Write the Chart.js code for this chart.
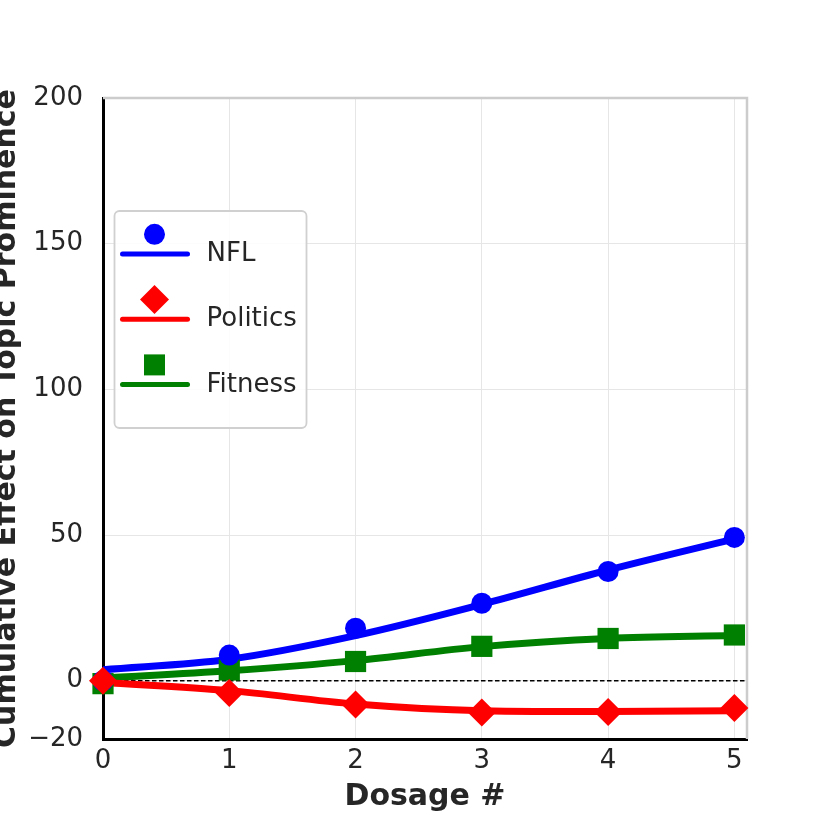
<!DOCTYPE html>
<html>
<head>
<meta charset="utf-8">
<script src="https://cdn.jsdelivr.net/npm/chart.js@4/dist/chart.umd.min.js"></script>
<style>
  body { margin: 0; background: #fff; }
  #wrap { width: 830px; height: 830px; }
</style>
</head>
<body>
<div id="wrap"><canvas id="grafico"></canvas></div>
<script>
const dosage = [0, 1, 2, 3, 4, 5];
const xTicks = [0, 1, 2, 3, 4, 5];
const yTicks = [-20, 0, 50, 100, 150, 200];

// measured points (markers)
const nflPts = [0, 8.8, 18.0, 26.6, 37.5, 49.2];
const politicsPts = [0, -4.2, -8.2, -10.9, -10.7, -9.4];
const fitnessPts = [-1, 3.7, 6.6, 11.8, 14.5, 15.7];

// smoothed curves drawn under the markers
const nflFit = [3.8, 7.4, 15.5, 26.2, 38.0, 48.7];
const politicsFit = [-0.6, -3.4, -8.0, -10.3, -10.6, -10.3];
const fitnessFit = [0.9, 3.4, 6.9, 11.7, 14.5, 15.5];

const series = ['NFL', 'Politics', 'Fitness'];
const colors = ['#0000ff', '#ff0000', '#008000'];

const xMin = 0, xMax = 5.1, yMin = -20, yMax = 200;
const textColor = '#262626';
const font = '"DejaVu Sans", sans-serif';

const xy = (xs, ys) => xs.map((x, i) => ({x: x, y: ys[i]}));

function fitLine(label, ys, color, order) {
  return {
    label: label, data: xy(dosage, ys), showLine: true, borderColor: color, borderWidth: 7,
    borderCapStyle: 'round', borderJoinStyle: 'round', pointRadius: 0,
    cubicInterpolationMode: 'monotone', fill: false, order: order
  };
}
function marks(label, ys, color, style, r, order) {
  return {
    label: label, data: xy(dosage, ys), showLine: false, pointStyle: style,
    pointRadius: r, pointBackgroundColor: color, pointBorderWidth: 0,
    clip: false, order: order
  };
}

// top/right spines in light gray
const spines = {
  id: 'spines',
  beforeDatasetsDraw(chart) {
    const {ctx, chartArea: a} = chart;
    ctx.save();
    ctx.strokeStyle = '#cccccc';
    ctx.lineWidth = 2.5;
    ctx.beginPath();
    ctx.moveTo(a.left, a.top); ctx.lineTo(a.right, a.top); ctx.lineTo(a.right, a.bottom);
    ctx.stroke();
    ctx.restore();
  }
};

// legend with marker stacked over line, like the original
const legendBox = {
  id: 'legendBox',
  afterDraw(chart) {
    const {ctx, chartArea: a} = chart;
    const x0 = a.left + 11.5, y0 = a.top + 113, w = 192, h = 217;
    ctx.save();
    ctx.beginPath();
    ctx.roundRect(x0, y0, w, h, 5);
    ctx.fillStyle = 'rgba(255,255,255,0.85)';
    ctx.fill();
    ctx.strokeStyle = '#d0d0d0';
    ctx.lineWidth = 1.8;
    ctx.stroke();
    series.forEach((name, i) => {
      const cx = x0 + 40, cy = y0 + 23.3 + i * 65.3;
      ctx.fillStyle = colors[i];
      ctx.beginPath();
      if (i === 0) {
        ctx.arc(cx, cy, 10.5, 0, Math.PI * 2);
      } else if (i === 1) {
        ctx.moveTo(cx, cy - 14.5); ctx.lineTo(cx + 14.5, cy);
        ctx.lineTo(cx, cy + 14.5); ctx.lineTo(cx - 14.5, cy); ctx.closePath();
      } else {
        ctx.rect(cx - 10.5, cy - 10.5, 21, 21);
      }
      ctx.fill();
      ctx.strokeStyle = colors[i];
      ctx.lineWidth = 5;
      ctx.lineCap = 'round';
      ctx.beginPath();
      ctx.moveTo(x0 + 8, cy + 19.7); ctx.lineTo(x0 + 73, cy + 19.7);
      ctx.stroke();
      ctx.fillStyle = textColor;
      ctx.font = '26px ' + font;
      ctx.textBaseline = 'middle';
      ctx.textAlign = 'left';
      ctx.fillText(name, x0 + 92, cy + 20);
    });
    ctx.restore();
  }
};

const ctx = document.getElementById('grafico').getContext('2d');

new Chart(ctx, {
  type: 'scatter',
  data: {
    datasets: [
      {
        label: 'zero', data: [{x: xMin, y: 0}, {x: xMax, y: 0}], showLine: true,
        borderColor: '#000', borderWidth: 1.5, borderDash: [4.5, 2.5], pointRadius: 0, order: 20
      },
      fitLine('Fitness', fitnessFit, colors[2], 12),
      fitLine('NFL', nflFit, colors[0], 11),
      fitLine('Politics', politicsFit, colors[1], 10),
      marks('Fitness', fitnessPts, colors[2], 'rect', 15, 3),
      marks('NFL', nflPts, colors[0], 'circle', 10.5, 2),
      marks('Politics', politicsPts, colors[1], 'rectRot', 14, 1)
    ]
  },
  options: {
    responsive: true,
    maintainAspectRatio: false,
    animation: false,
    layout: { padding: { top: 98, right: 83, left: 0, bottom: 0 } },
    plugins: {
      legend: { display: false },
      tooltip: { enabled: false }
    },
    scales: {
      x: {
        type: 'linear', min: xMin, max: xMax,
        afterFit: s => { s.height = 91; },
        afterBuildTicks: s => { s.ticks = xTicks.map(v => ({value: v})); },
        grid: { color: '#e6e6e6', lineWidth: 1, drawTicks: false },
        border: { color: '#000', width: 3 },
        ticks: { color: textColor, font: { family: font, size: 26 }, padding: 7 },
        title: {
          display: true, text: 'Dosage #', color: textColor,
          font: { family: font, size: 30, weight: 'bold' },
          padding: { top: 0, bottom: 15 }
        }
      },
      y: {
        min: yMin, max: yMax,
        afterFit: s => { s.width = 103; },
        afterBuildTicks: s => { s.ticks = yTicks.map(v => ({value: v})); },
        grid: { color: '#e6e6e6', lineWidth: 1, drawTicks: false },
        border: { color: '#000', width: 3 },
        ticks: {
          color: textColor, font: { family: font, size: 26 }, padding: 20,
          callback: v => String(v).replace('-', '\u2212')
        },
        title: {
          display: true, text: 'Cumulative Effect on Topic Prominence', color: textColor,
          font: { family: font, size: 30, weight: 'bold' },
          padding: { top: -11, bottom: 0 }
        }
      }
    }
  },
  plugins: [spines, legendBox]
});
</script>
</body>
</html>
